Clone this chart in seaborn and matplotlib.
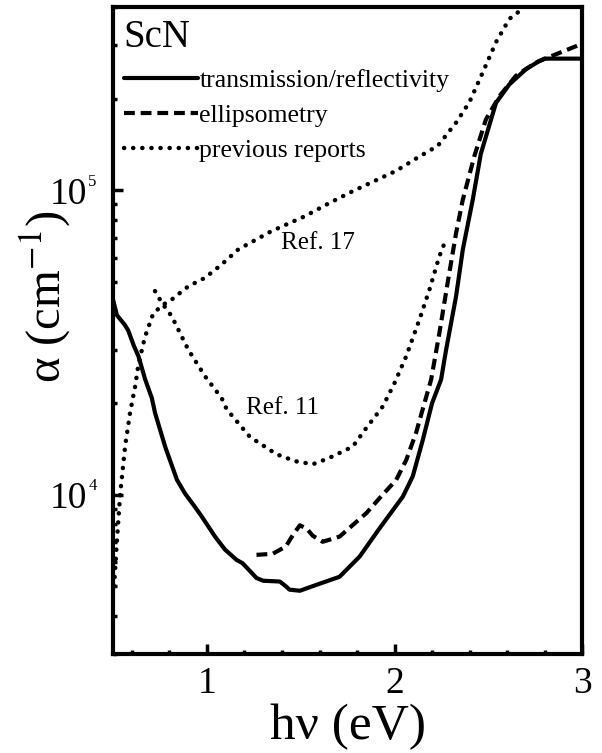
import numpy as np
import pandas as pd
import matplotlib
matplotlib.use("Agg")
import matplotlib.pyplot as plt
import seaborn as sns
from matplotlib.ticker import FixedLocator, NullFormatter, FixedFormatter

# ---------------- data ----------------
trans_x = [0.50, 0.52, 0.56, 0.58, 0.61, 0.635, 0.67, 0.706, 0.723, 0.777, 0.84, 0.883,
           0.93, 0.972, 1.043, 1.096, 1.158, 1.19, 1.264, 1.30, 1.388, 1.42, 1.44, 1.495,
           1.583, 1.707, 1.814, 1.92, 2.044, 2.097, 2.15, 2.20, 2.248, 2.275, 2.328, 2.364,
           2.417, 2.46, 2.541, 2.612, 2.70, 2.771, 2.80, 3.00]
trans_y = [43600, 38900, 36300, 34700, 30900, 28500, 24000, 20800, 18600, 14400, 11200, 10100,
           9230, 8490, 7290, 6610, 6110, 5960, 5330, 5220, 5190, 5010, 4880, 4840,
           5060, 5380, 6270, 7760, 9860, 11500, 15100, 20000, 23900, 30000, 44900, 64000,
           93300, 132000, 194000, 223000, 250000, 266000, 271000, 271000]

ellip_x = [1.264, 1.35, 1.42, 1.46, 1.495, 1.53, 1.565, 1.617, 1.707, 1.85, 1.92, 2.009,
           2.062, 2.115, 2.15, 2.195, 2.239, 2.283, 2.328, 2.364, 2.426, 2.487, 2.559,
           2.647, 2.753, 2.86, 2.975, 3.0]
ellip_y = [6350, 6400, 6760, 7410, 7940, 7760, 7330, 7010, 7290, 8710, 9750, 11200,
           13000, 16000, 19100, 23900, 34000, 49700, 72400, 93300, 130000, 171000, 204000,
           238000, 263000, 280000, 299000, 302000]

ref11_x = [0.723, 0.76, 0.812, 0.9, 0.99, 1.078, 1.105, 1.229, 1.37, 1.47, 1.564, 1.65,
           1.777, 1.85, 1.937, 2.0, 2.062, 2.133, 2.186, 2.239, 2.274]
ref11_y = [46700, 42700, 38600, 30000, 24500, 20800, 19100, 15500, 13600, 12900, 12600, 13200,
           14400, 16600, 19500, 23300, 28500, 37700, 47200, 60800, 69000]

ref17_x = [0.505, 0.52, 0.537, 0.564, 0.59, 0.617, 0.635, 0.67, 0.714, 0.768, 0.812, 0.9,
           0.989, 1.078, 1.167, 1.344, 1.521, 1.654, 1.778, 2.009, 2.13, 2.23, 2.328,
           2.399, 2.47, 2.541, 2.612, 2.68, 2.74]
ref17_y = [5010, 7080, 10000, 14500, 18600, 22700, 26900, 33100, 39500, 42200, 43800, 48400,
           51600, 57100, 64000, 73500, 82200, 91000, 99500, 116000, 129000, 140000, 167000,
           195000, 244000, 307000, 366000, 394000, 447000]

series_labels = ["transmission/reflectivity", "ellipsometry", "previous reports"]
x_major = [1, 2, 3]
x_minor = [0.6, 0.8, 1.2, 1.4, 1.6, 1.8, 2.2, 2.4, 2.6, 2.8]
y_major = [1e4, 1e5]
y_major_exp = ["4", "5"]
y_minor = [3e3, 4e3, 5e3, 6e3, 7e3, 8e3, 9e3, 2e4, 3e4, 4e4, 5e4, 6e4, 7e4, 8e4, 9e4,
           2e5, 3e5, 4e5]

# ---------------- style ----------------
sns.set_style("ticks", rc={"axes.edgecolor": "black", "xtick.color": "black",
                           "ytick.color": "black", "text.color": "black",
                           "axes.labelcolor": "black"})
plt.rcParams["font.family"] = ["Liberation Serif", "DejaVu Serif"]
plt.rcParams["mathtext.fontset"] = "stix"

fig = plt.figure(figsize=(6.02, 7.53), dpi=100)
ax = fig.add_axes([0.188, 0.1315, 0.779, 0.859])

lw = 3.0
sns.lineplot(x=trans_x, y=trans_y, ax=ax, color="black", lw=lw, sort=False,
             estimator=None, label=series_labels[0])
sns.lineplot(x=ellip_x, y=ellip_y, ax=ax, color="black", lw=lw, sort=False,
             estimator=None, label=series_labels[1])
sns.lineplot(x=ref17_x, y=ref17_y, ax=ax, color="black", lw=3.2, sort=False,
             estimator=None, label=series_labels[2])
sns.lineplot(x=ref11_x, y=ref11_y, ax=ax, color="black", lw=3.2, sort=False,
             estimator=None, label="_nolegend_")

lines = ax.get_lines()
lines[1].set_linestyle((0, (2.6, 1.4)))
for ln in lines[2:4]:
    ln.set_linestyle((0, (0.05, 2.0)))
    ln.set_dash_capstyle("round")

ax.set_yscale("log")
ax.set_xlim(0.5, 3.0)
ax.set_ylim(3e3, 4e5)

for s in ax.spines.values():
    s.set_linewidth(3.0)
    s.set_visible(True)
    s.set_color("black")

ax.xaxis.set_major_locator(FixedLocator(x_major))
ax.xaxis.set_minor_locator(FixedLocator(x_minor))
ax.yaxis.set_major_locator(FixedLocator(y_major))
ax.yaxis.set_major_formatter(FixedFormatter(["10", "10"]))
ax.yaxis.set_minor_locator(FixedLocator(y_minor))
ax.yaxis.set_minor_formatter(NullFormatter())

ax.tick_params(which="major", direction="in", length=7, width=2.5, labelsize=27,
               top=False, right=False, colors="black")
ax.tick_params(axis="y", which="major", pad=18.5)
ax.tick_params(axis="x", which="major", pad=9)
ax.tick_params(which="minor", direction="in", length=3, width=2.5, top=False,
               right=False, colors="black")

for v, e in zip(y_major, y_major_exp):
    ax.annotate(e, xy=(0, v), xycoords=ax.get_yaxis_transform(),
                xytext=(-15, 6), textcoords="offset points",
                ha="center", va="center", fontsize=12)

ax.set_xlabel("h\u03bd (eV)", fontsize=37, labelpad=2)
ax.set_ylabel("\u03b1 (cm$^{-1}$)", fontsize=35)
ax.yaxis.set_label_coords(-0.085, 0.552)

ax.text(1.59, 6.7e4, "Ref. 17", fontsize=18, ha="center", va="center")
ax.text(1.40, 1.93e4, "Ref. 11", fontsize=18, ha="center", va="center")

leg = ax.legend(loc="upper left", bbox_to_anchor=(-0.008, 1.003), frameon=False,
                fontsize=18.5, title="ScN", title_fontsize=28, alignment="left",
                handlelength=2.9, handletextpad=0.05, labelspacing=0.48,
                borderaxespad=0.0, borderpad=0.55)

fig.savefig("out.png", dpi=100)
